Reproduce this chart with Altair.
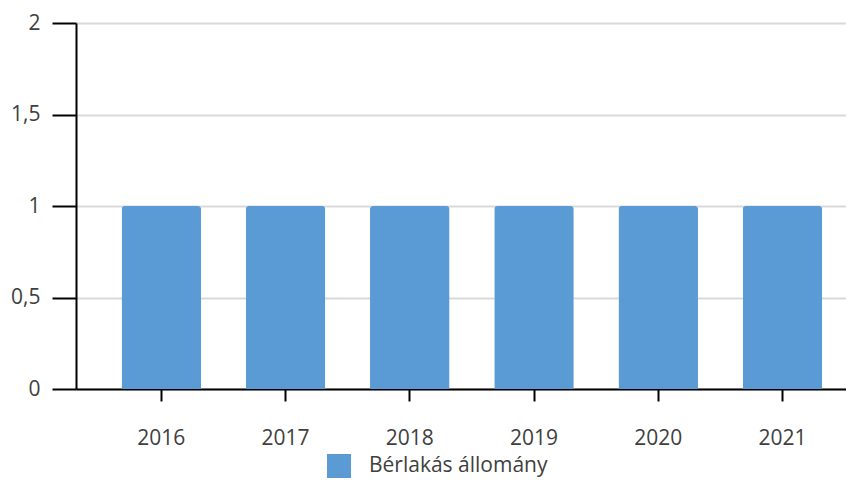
import altair as alt
import pandas as pd

years = ["2016", "2017", "2018", "2019", "2020", "2021"]
values = [1, 1, 1, 1, 1, 1]
series = "Bérlakás állomány"
y_ticks = [0, 0.5, 1, 1.5, 2]

df = pd.DataFrame({"year": years, "value": values, "series": [series] * len(years)})

FONT = "Open Sans"
TXT = "#404040"

chart = alt.Chart(df).mark_bar(
    cornerRadiusTopLeft=3, cornerRadiusTopRight=3
).encode(
    x=alt.X("year:N", title=None, sort=years,
            scale=alt.Scale(paddingInner=0.36, paddingOuter=0.279, align=0.657),
            axis=alt.Axis(labelAngle=0, labelFontSize=21, labelFont=FONT, labelColor=TXT,
                          domainColor="#000000", domainWidth=2, tickColor="#000000", tickWidth=2,
                          tickSize=12, labelPadding=26, grid=False)),
    y=alt.Y("value:Q", title=None,
            scale=alt.Scale(domain=[0, 2], nice=False),
            axis=alt.Axis(values=y_ticks,
                          labelExpr="replace(format(datum.value, '~g'), '.', ',')",
                          labelFontSize=21, labelFont=FONT, labelColor=TXT,
                          domainColor="#000000", domainWidth=2, tickColor="#000000", tickWidth=2,
                          tickSize=24, labelPadding=12, grid=True, gridColor="#d9d9d9", gridWidth=2)),
    color=alt.Color("series:N", scale=alt.Scale(range=["#5b9bd5"]),
                    legend=alt.Legend(title=None, orient="none", legendX=251, legendY=431,
                                      symbolType="square", symbolSize=576, symbolStrokeWidth=0,
                                      labelFontSize=21, labelFont=FONT, labelColor=TXT,
                                      labelOffset=18, labelLimit=400)),
).properties(
    width=770, height=366,
    padding={"left": 2, "top": 4, "right": 0, "bottom": 0},
).configure_view(stroke=None)

chart.save("out.html", embed_options={"renderer": "svg", "actions": False})
